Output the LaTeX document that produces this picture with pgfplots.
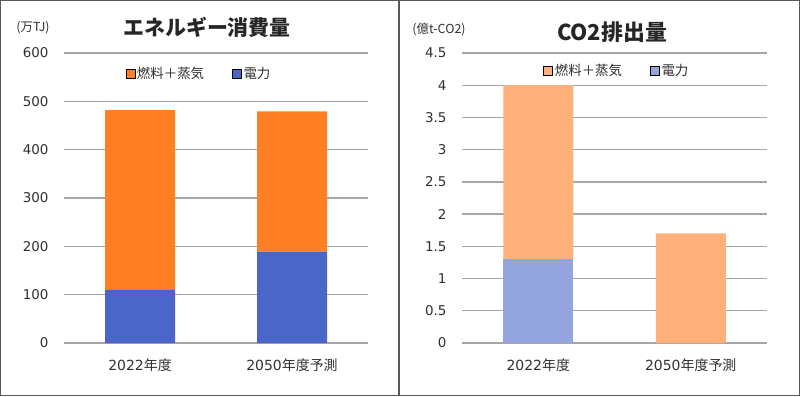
\documentclass[border=0pt]{standalone}
\usepackage{pgfplots}
\pgfplotsset{compat=1.18}
\usepackage{fontspec}
\setmainfont{DejaVu Sans}
\newfontfamily\cjk{Noto Sans CJK JP}
\definecolor{fuelL}{HTML}{FF7F24}
\definecolor{elecL}{HTML}{4A66C9}
\definecolor{fuelR}{HTML}{FFB07B}
\definecolor{elecR}{HTML}{94A5DE}
\definecolor{gridc}{HTML}{A6A6A6}
\definecolor{txt}{HTML}{303030}
\definecolor{frame}{HTML}{595959}
\pgfplotsset{
  mybar/.style={
    scale only axis,
    ybar stacked,
    bar width=70bp,
    ymin=0,
    xmin=-0.5, xmax=1.5,
    xtick={0,1},
    xticklabels={2022{\cjk 年度},2050{\cjk 年度予測}},
    axis line style={draw=none},
    major tick length=0pt,
    ymajorgrids,
    major grid style={gridc, line width=1.3pt},
    legend columns=2,
    legend style={draw=none, fill=none, font=\cjk\fontsize{13.5}{15}\selectfont, text=txt,
      /tikz/every even column/.append style={column sep=26bp}},
    legend image code/.code={\fill[##1] (0bp,-4.5bp) rectangle (9bp,4.5bp);},
    yticklabel shift=12bp,
    xticklabel shift=12bp,
    yticklabel style={font=\fontsize{13.5}{15}\selectfont, text=txt},
    xticklabel style={font=\fontsize{14}{16}\selectfont, text=txt},
    /pgf/number format/assume math mode=true,
  }
}
\begin{document}
\begin{tikzpicture}[x=1bp,y=1bp]
\useasboundingbox (0,0) rectangle (800,396);
\draw[frame, line width=1.5bp] (0.75,0.75) rectangle (799.25,395.25);
\draw[frame, line width=1.5bp] (399,0) -- (399,396);

\begin{axis}[mybar, at={(64bp,53bp)}, anchor=south west, width=304bp, height=290bp,
  ymax=600, ytick={0,100,...,600},
  legend style={at={(0.444,0.928)}, anchor=center}]
\addlegendimage{fill=fuelL}\addlegendentry{燃料＋蒸気}
\addlegendimage{fill=elecL}\addlegendentry{電力}
\addplot[fill=elecL, draw=none, forget plot] coordinates {(0,110) (1,189)};
\addplot[fill=fuelL, draw=none, forget plot] coordinates {(0,372) (1,290)};
\end{axis}
\node[font=\cjk\fontsize{12.5}{14}\selectfont, text=txt] at (33,368) {(万TJ)};
\node[font=\cjk\fontsize{21}{24}\selectfont\bfseries, text=black!85] at (207,369) {エネルギー消費量};

\begin{axis}[mybar, at={(462bp,53bp)}, anchor=south west, width=305bp, height=290bp,
  ymax=4.5, ytick={0,0.5,...,4.5},
  legend style={at={(0.508,0.938)}, anchor=center}]
\addlegendimage{fill=fuelR}\addlegendentry{燃料＋蒸気}
\addlegendimage{fill=elecR}\addlegendentry{電力}
\addplot[fill=elecR, draw=none, forget plot] coordinates {(0,1.3) (1,0)};
\addplot[fill=fuelR, draw=none, forget plot] coordinates {(0,2.7) (1,1.7)};
\end{axis}
\node[font=\cjk\fontsize{12.5}{14}\selectfont, text=txt] at (439,366) {(億t-CO2)};
\node[font=\cjk\fontsize{22}{25}\selectfont\bfseries, text=black!85] at (612,364) {CO2排出量};
\end{tikzpicture}
\end{document}
